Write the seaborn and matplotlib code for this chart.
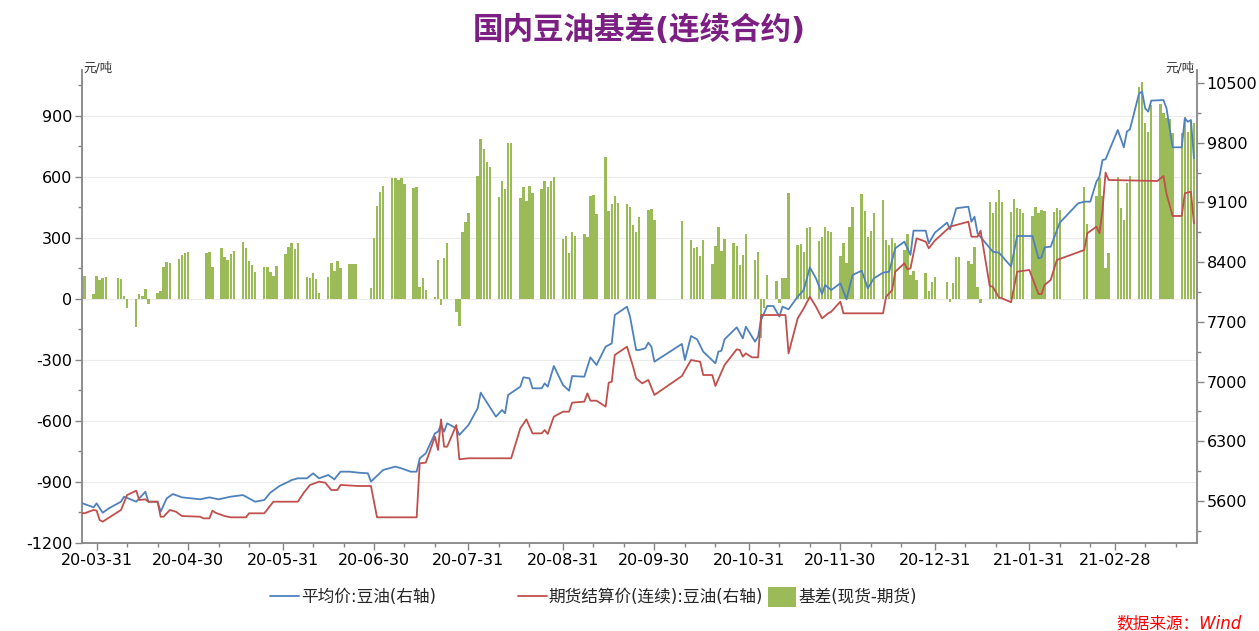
import matplotlib
matplotlib.use("Agg")
import matplotlib.pyplot as plt
import matplotlib.dates as mdates
from matplotlib.lines import Line2D
from matplotlib.patches import Patch
from matplotlib.ticker import MultipleLocator
import pandas as pd
import seaborn as sns

# 基差(现货-期货), 元/吨, left axis
basis_dates = [
    "20-03-27", "20-03-30", "20-03-31", "20-04-01", "20-04-02", "20-04-03",
    "20-04-07", "20-04-08", "20-04-09", "20-04-10",
    "20-04-13", "20-04-14", "20-04-15", "20-04-16", "20-04-17",
    "20-04-20", "20-04-21", "20-04-22", "20-04-23", "20-04-24",
    "20-04-27", "20-04-28", "20-04-29", "20-04-30",
    "20-05-06", "20-05-07", "20-05-08",
    "20-05-11", "20-05-12", "20-05-13", "20-05-14", "20-05-15",
    "20-05-18", "20-05-19", "20-05-20", "20-05-21", "20-05-22",
    "20-05-25", "20-05-26", "20-05-27", "20-05-28", "20-05-29",
    "20-06-01", "20-06-02", "20-06-03", "20-06-04", "20-06-05",
    "20-06-08", "20-06-09", "20-06-10", "20-06-11", "20-06-12",
    "20-06-15", "20-06-16", "20-06-17", "20-06-18", "20-06-19",
    "20-06-22", "20-06-23", "20-06-24",
    "20-06-29", "20-06-30", "20-07-01", "20-07-02", "20-07-03",
    "20-07-06", "20-07-07", "20-07-08", "20-07-09", "20-07-10",
    "20-07-13", "20-07-14", "20-07-15", "20-07-16", "20-07-17",
    "20-07-20", "20-07-21", "20-07-22", "20-07-23", "20-07-24",
    "20-07-27", "20-07-28", "20-07-29", "20-07-30", "20-07-31",
    "20-08-03", "20-08-04", "20-08-05", "20-08-06", "20-08-07",
    "20-08-10", "20-08-11", "20-08-12", "20-08-13", "20-08-14",
    "20-08-17", "20-08-18", "20-08-19", "20-08-20", "20-08-21",
    "20-08-24", "20-08-25", "20-08-26", "20-08-27", "20-08-28",
    "20-08-31", "20-09-01", "20-09-02", "20-09-03", "20-09-04",
    "20-09-07", "20-09-08", "20-09-09", "20-09-10", "20-09-11",
    "20-09-14", "20-09-15", "20-09-16", "20-09-17", "20-09-18",
    "20-09-21", "20-09-22", "20-09-23", "20-09-24", "20-09-25",
    "20-09-28", "20-09-29", "20-09-30",
    "20-10-09",
    "20-10-12", "20-10-13", "20-10-14", "20-10-15", "20-10-16",
    "20-10-19", "20-10-20", "20-10-21", "20-10-22", "20-10-23",
    "20-10-26", "20-10-27", "20-10-28", "20-10-29", "20-10-30",
    "20-11-02", "20-11-03", "20-11-04", "20-11-05", "20-11-06",
    "20-11-09", "20-11-10", "20-11-11", "20-11-12", "20-11-13",
    "20-11-16", "20-11-17", "20-11-18", "20-11-19", "20-11-20",
    "20-11-23", "20-11-24", "20-11-25", "20-11-26", "20-11-27",
    "20-11-30", "20-12-01", "20-12-02", "20-12-03", "20-12-04",
    "20-12-07", "20-12-08", "20-12-09", "20-12-10", "20-12-11",
    "20-12-14", "20-12-15", "20-12-16", "20-12-17", "20-12-18",
    "20-12-21", "20-12-22", "20-12-23", "20-12-24", "20-12-25",
    "20-12-28", "20-12-29", "20-12-30", "20-12-31",
    "21-01-04", "21-01-05", "21-01-06", "21-01-07", "21-01-08",
    "21-01-11", "21-01-12", "21-01-13", "21-01-14", "21-01-15",
    "21-01-18", "21-01-19", "21-01-20", "21-01-21", "21-01-22",
    "21-01-25", "21-01-26", "21-01-27", "21-01-28", "21-01-29",
    "21-02-01", "21-02-02", "21-02-03", "21-02-04", "21-02-05",
    "21-02-08", "21-02-09", "21-02-10",
    "21-02-18", "21-02-19",
    "21-02-22", "21-02-23", "21-02-24", "21-02-25", "21-02-26",
    "21-03-01", "21-03-02", "21-03-03", "21-03-04", "21-03-05",
    "21-03-08", "21-03-09", "21-03-10", "21-03-11", "21-03-12",
    "21-03-15", "21-03-16", "21-03-17", "21-03-18", "21-03-19",
    "21-03-22", "21-03-23", "21-03-24", "21-03-25", "21-03-26",
]
basis_values = [
    113, 23, 113, 93, 102, 107,
    102, 97, 15, -43,
    -136, 23, 15, 48, -26,
    28, 41, 156, 184, 175,
    195, 216, 228, 233,
    225, 233, 159,
    249, 205, 192, 221, 236,
    279, 249, 185, 167, 134,
    156, 156, 134, 113, 162,
    221, 257, 277, 246, 277,
    107, 102, 126, 97, 31,
    110, 175, 139, 187, 151,
    172, 172, 172,
    52, 298, 457, 528, 556,
    593, 593, 585, 593, 565,
    544, 552, 61, 102, 44,
    11, 192, -30, 200, 277,
    -62, -133, 331, 380, 424,
    605, 785, 736, 675, 647,
    500, 582, 543, 765, 765,
    495, 549, 484, 556, 520,
    539, 582, 552, 582, 601,
    293, 311, 228, 331, 311,
    320, 303, 506, 511, 418,
    700, 434, 467, 506, 474,
    467, 451, 364, 331, 402,
    438, 441, 388,
    385,
    290, 249, 254, 211, 290,
    172, 262, 352, 238, 295,
    274, 261, 167, 216, 320,
    192, 233, -190, -46, 118,
    90, -18, 102, 102, 520,
    266, 270, 233, 347, 356,
    287, 303, 352, 336, 331,
    211, 274, 175, 356, 454,
    515, 434, 303, 334, 424,
    487, 290, 266, 298, 274,
    241, 320, 118, 138, 93,
    126, 41, 85, 107,
    82, -13, 77, 205, 205,
    188, 172, 257, 57, -21,
    479, 421, 479, 536, 479,
    429, 490, 446, 441, 424,
    408, 451, 421, 438, 434,
    429, 446, 438,
    549, 369,
    506, 593, 506, 151, 228,
    601, 446, 388, 569, 605,
    1041, 1069, 867, 823, 954,
    959, 913, 888, 883, 815,
    818, 897, 823, 877, 867,
]

# 平均价:豆油, 元/吨, right axis
avg_dates = [
    "20-03-26", "20-03-27", "20-03-30", "20-03-31", "20-04-02", "20-04-04",
    "20-04-08", "20-04-09", "20-04-13", "20-04-16", "20-04-17", "20-04-20",
    "20-04-21", "20-04-23", "20-04-25", "20-04-28", "20-05-04", "20-05-07",
    "20-05-10", "20-05-14", "20-05-18", "20-05-22", "20-05-25", "20-05-27",
    "20-05-30", "20-06-02", "20-06-03", "20-06-05", "20-06-08", "20-06-10",
    "20-06-12", "20-06-15", "20-06-17", "20-06-19", "20-06-22", "20-06-25",
    "20-06-28", "20-06-29", "20-07-03", "20-07-07", "20-07-09", "20-07-12",
    "20-07-14", "20-07-15", "20-07-17", "20-07-20", "20-07-21", "20-07-22",
    "20-07-23", "20-07-24", "20-07-27", "20-07-28", "20-07-31", "20-08-03",
    "20-08-04", "20-08-09", "20-08-11", "20-08-12", "20-08-13", "20-08-17",
    "20-08-18", "20-08-20", "20-08-21", "20-08-24", "20-08-25", "20-08-26",
    "20-08-28", "20-08-31", "20-09-02", "20-09-03", "20-09-07", "20-09-09",
    "20-09-11", "20-09-14", "20-09-16", "20-09-17", "20-09-21", "20-09-22",
    "20-09-24", "20-09-25", "20-09-27", "20-09-28", "20-09-29", "20-09-30",
    "20-10-09", "20-10-10", "20-10-12", "20-10-14", "20-10-16", "20-10-20",
    "20-10-21", "20-10-22", "20-10-23", "20-10-27", "20-10-29", "20-10-30",
    "20-11-02", "20-11-03", "20-11-04", "20-11-06", "20-11-08", "20-11-10",
    "20-11-11", "20-11-13", "20-11-16", "20-11-18", "20-11-20", "20-11-22",
    "20-11-24", "20-11-25", "20-11-27", "20-11-30", "20-12-02", "20-12-04",
    "20-12-07", "20-12-09", "20-12-11", "20-12-14", "20-12-16", "20-12-18",
    "20-12-21", "20-12-23", "20-12-24", "20-12-28", "20-12-29", "20-12-31",
    "21-01-04", "21-01-05", "21-01-07", "21-01-11", "21-01-12", "21-01-13",
    "21-01-14", "21-01-19", "21-01-21", "21-01-25", "21-01-27", "21-02-01",
    "21-02-03", "21-02-04", "21-02-05", "21-02-07", "21-02-10", "21-02-16",
    "21-02-18", "21-02-20", "21-02-22", "21-02-23", "21-02-24", "21-02-25",
    "21-03-01", "21-03-03", "21-03-04", "21-03-05", "21-03-08", "21-03-09",
    "21-03-10", "21-03-11", "21-03-12", "21-03-16", "21-03-17", "21-03-19",
    "21-03-22", "21-03-23", "21-03-24", "21-03-25", "21-03-26",
]
avg_values = [
    5580, 5565, 5526, 5573, 5463, 5514,
    5592, 5651, 5592, 5709, 5592, 5592,
    5475, 5631, 5682, 5643, 5620, 5643,
    5620, 5651, 5670, 5592, 5612, 5698,
    5776, 5827, 5846, 5866, 5866, 5924,
    5866, 5905, 5854, 5944, 5944, 5932,
    5925, 5827, 5964, 6003, 5983, 5944,
    5944, 6100, 6159, 6393, 6413, 6491,
    6413, 6511, 6452, 6374, 6491, 6686,
    6870, 6589, 6667, 6628, 6843, 6940,
    7050, 7038, 6921, 6921, 6979, 6940,
    7183, 6960, 6893, 7065, 7057, 7284,
    7194, 7409, 7448, 7780, 7878, 7761,
    7370, 7370, 7390, 7456, 7409, 7233,
    7441, 7253, 7534, 7495, 7351, 7214,
    7351, 7362, 7495, 7636, 7507, 7644,
    7468, 7526, 7722, 7886, 7886, 7761,
    7878, 7847, 7995, 8073, 8339, 8210,
    8026, 8132, 8073, 8152, 7964, 8249,
    8300, 8093, 8210, 8277, 8288, 8562,
    8640, 8484, 8769, 8769, 8620, 8745,
    8863, 8784, 9031, 9050, 8874, 8933,
    8738, 8523, 8511, 8350, 8706, 8706,
    8445, 8456, 8573, 8581, 8863, 9089,
    9109, 9109, 9343, 9402, 9597, 9605,
    9949, 9746, 9930, 9957, 10378, 10398,
    10203, 10164, 10293, 10300, 10203, 9746,
    9746, 10086, 10046, 10066, 9617,
]

# 期货结算价(连续):豆油, 元/吨, right axis
settle_dates = [
    "20-03-26", "20-03-27", "20-03-30", "20-03-31", "20-04-01", "20-04-02",
    "20-04-08", "20-04-10", "20-04-13", "20-04-14", "20-04-16", "20-04-17",
    "20-04-20", "20-04-21", "20-04-22", "20-04-24", "20-04-26", "20-04-28",
    "20-05-04", "20-05-05", "20-05-07", "20-05-08", "20-05-09", "20-05-12",
    "20-05-14", "20-05-19", "20-05-20", "20-05-25", "20-05-28", "20-06-05",
    "20-06-07", "20-06-09", "20-06-12", "20-06-14", "20-06-16", "20-06-18",
    "20-06-19", "20-06-25", "20-06-29", "20-07-01", "20-07-14", "20-07-15",
    "20-07-17", "20-07-20", "20-07-21", "20-07-22", "20-07-23", "20-07-24",
    "20-07-27", "20-07-28", "20-07-31", "20-08-14", "20-08-17", "20-08-19",
    "20-08-21", "20-08-24", "20-08-25", "20-08-26", "20-08-28", "20-08-31",
    "20-09-02", "20-09-03", "20-09-07", "20-09-08", "20-09-09", "20-09-11",
    "20-09-14", "20-09-15", "20-09-16", "20-09-17", "20-09-21", "20-09-23",
    "20-09-24", "20-09-26", "20-09-28", "20-09-30", "20-10-09", "20-10-12",
    "20-10-15", "20-10-16", "20-10-19", "20-10-20", "20-10-23", "20-10-27",
    "20-10-28", "20-10-29", "20-10-30", "20-11-01", "20-11-03", "20-11-04",
    "20-11-12", "20-11-13", "20-11-16", "20-11-18", "20-11-20", "20-11-22",
    "20-11-24", "20-11-26", "20-11-27", "20-11-30", "20-12-01", "20-12-14",
    "20-12-15", "20-12-17", "20-12-18", "20-12-21", "20-12-22", "20-12-23",
    "20-12-25", "20-12-28", "20-12-29", "20-12-31", "21-01-05", "21-01-07",
    "21-01-11", "21-01-12", "21-01-14", "21-01-15", "21-01-18", "21-01-19",
    "21-01-21", "21-01-22", "21-01-25", "21-01-27", "21-01-31", "21-02-03",
    "21-02-04", "21-02-05", "21-02-07", "21-02-09", "21-02-18", "21-02-19",
    "21-02-22", "21-02-23", "21-02-24", "21-02-25", "21-02-26", "21-03-14",
    "21-03-16", "21-03-17", "21-03-19", "21-03-22", "21-03-23", "21-03-25",
    "21-03-26",
]
settle_values = [
    5460, 5456, 5495, 5487, 5377, 5358,
    5495, 5670, 5721, 5612, 5620, 5592,
    5592, 5416, 5416, 5495, 5475, 5424,
    5416, 5397, 5397, 5487, 5463, 5424,
    5409, 5409, 5456, 5456, 5592, 5592,
    5698, 5788, 5827, 5815, 5729, 5729,
    5788, 5776, 5776, 5409, 5409, 6042,
    6050, 6354, 6198, 6557, 6237, 6237,
    6491, 6089, 6101, 6101, 6452, 6557,
    6393, 6393, 6432, 6386, 6589, 6647,
    6647, 6753, 6765, 6862, 6776, 6776,
    6706, 6987, 6999, 7312, 7409, 7175,
    7038, 6979, 7019, 6843, 7065, 7253,
    7233, 7077, 7077, 6948, 7194, 7378,
    7370, 7292, 7331, 7284, 7284, 7780,
    7780, 7331, 7741, 7859, 7995, 7878,
    7741, 7800, 7819, 7937, 7800, 7800,
    7995, 8073, 8288, 8386, 8316, 8327,
    8679, 8640, 8562, 8652, 8816, 8835,
    8874, 8698, 8698, 8769, 8120, 8112,
    7987, 7976, 7930, 8288, 8308, 8026,
    8026, 8132, 8191, 8425, 8542, 8738,
    8816, 8738, 9011, 9449, 9363, 9351,
    9410, 9200, 8941, 8941, 9207, 9226,
    8855,
]

BLUE = "#4F81BD"
RED = "#C0504D"
GREEN = "#9BBB59"
GREY = "#868686"

sns.set_theme(style="white")
plt.rcParams["font.family"] = ["DejaVu Sans", "Noto Sans CJK SC"]
plt.rcParams["axes.unicode_minus"] = False

fmt = "%y-%m-%d"
basis = pd.DataFrame({"date": pd.to_datetime(basis_dates, format=fmt), "basis": basis_values})
avg = pd.DataFrame({"date": pd.to_datetime(avg_dates, format=fmt), "price": avg_values})
settle = pd.DataFrame({"date": pd.to_datetime(settle_dates, format=fmt), "price": settle_values})

W, H = 1259, 631
fig = plt.figure(figsize=(W / 100, H / 100), dpi=100)
ax = fig.add_axes([82 / W, 1 - 543 / H, (1197 - 82) / W, (543 - 70) / H])
ax2 = ax.twinx()

# basis bars on the left axis
ax.bar(basis["date"], basis["basis"], width=0.8, color=GREEN, linewidth=0, zorder=2)

# prices on the right axis
sns.lineplot(data=avg, x="date", y="price", ax=ax2, color=BLUE, lw=1.3,
             estimator=None, legend=False)
sns.lineplot(data=settle, x="date", y="price", ax=ax2, color=RED, lw=1.3,
             estimator=None, legend=False)

ax.set_ylim(-1200, 1126)
ax2.set_ylim(5108, 10652)
ax.set_xlim(pd.Timestamp("2020-03-26 05:00"), pd.Timestamp("2021-03-27 00:00"))

ax.yaxis.set_major_locator(MultipleLocator(300))
ax.yaxis.set_minor_locator(MultipleLocator(150))
ax2.set_yticks(range(5600, 10501, 700))
ax2.yaxis.set_minor_locator(MultipleLocator(350))

month_ends = pd.date_range("2020-03-31", "2021-02-28", freq="ME")
minor_days = [d for d in pd.date_range("2020-04-01", "2021-03-26", freq="D") if d.day in (10, 20)]
ax.set_xticks(month_ends)
ax.set_xticks(minor_days, minor=True)
ax.xaxis.set_major_formatter(mdates.DateFormatter(fmt))

ax.grid(axis="y", which="major", color="#EBEBEB", lw=0.8)
ax.set_axisbelow(True)

for a in (ax, ax2):
    a.set_xlabel("")
    a.set_ylabel("")
    for s in a.spines.values():
        s.set_visible(False)
ax.spines["left"].set_visible(True)
ax.spines["bottom"].set_visible(True)
ax2.spines["right"].set_visible(True)
for s in (ax.spines["left"], ax.spines["bottom"], ax2.spines["right"]):
    s.set_color(GREY)
    s.set_linewidth(1.3)

ax.tick_params(axis="both", which="major", direction="out", length=5, width=1,
               color=GREY, labelsize=11.5, labelcolor="black", pad=2)
ax.tick_params(axis="both", which="minor", direction="out", length=3, width=1, color=GREY)
ax.tick_params(axis="y", which="both", left=True)
ax.tick_params(axis="x", which="both", bottom=True)
ax2.tick_params(axis="y", which="major", direction="out", length=5, width=1,
                color=GREY, labelsize=11.5, labelcolor="black", pad=2, right=True)
ax2.tick_params(axis="y", which="minor", direction="out", length=3, width=1,
                color=GREY, right=True)

fig.text(639 / W, 1 - 30 / H, "国内豆油基差(连续合约)", ha="center", va="center",
         fontsize=22, fontweight="bold", color="#7B1F82")
fig.text(83 / W, 1 - 68 / H, "元/吨", ha="left", va="center", fontsize=9, color="#333333")
fig.text(1195 / W, 1 - 68 / H, "元/吨", ha="right", va="center", fontsize=9, color="#333333")

leg_y = 1 - 597 / H
leg_kw = dict(loc="center left", frameon=False, fontsize=12, handletextpad=0.1,
              borderpad=0, borderaxespad=0)
fig.legend([Line2D([], [], color=BLUE, lw=1.3)], ["平均价:豆油(右轴)"],
           bbox_to_anchor=(270 / W, leg_y), handlelength=1.75, **leg_kw)
fig.legend([Line2D([], [], color=RED, lw=1.3)], ["期货结算价(连续):豆油(右轴)"],
           bbox_to_anchor=(518 / W, leg_y), handlelength=1.75, **leg_kw)
fig.legend([Patch(facecolor=GREEN, edgecolor="none")], ["基差(现货-期货)"],
           bbox_to_anchor=(768 / W, leg_y), handlelength=1.7, handleheight=1.5, **leg_kw)

fig.text(1242 / W, 1 - 623 / H, "数据来源：Wind", ha="right", va="center",
         fontsize=12, color="#FF0000", style="italic")

fig.savefig("out.png", dpi=100)
